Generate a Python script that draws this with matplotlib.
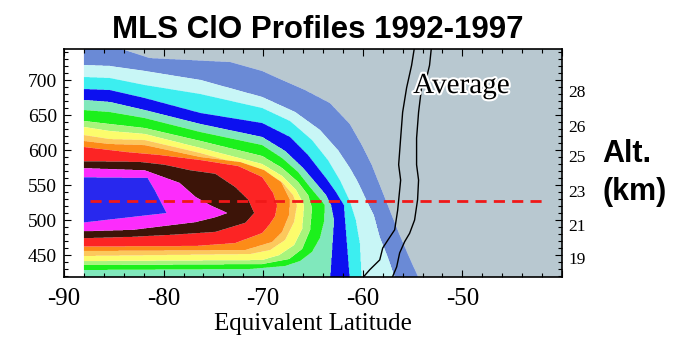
import numpy as np
import matplotlib
matplotlib.use("Agg")
import matplotlib.pyplot as plt
import matplotlib.patheffects as pe
import matplotlib.transforms as mtransforms
from matplotlib.ticker import MultipleLocator, FixedLocator

# ---------------------------------------------------------------------------
# ClO bands (index 0 = background, 14 = vortex core)
# ---------------------------------------------------------------------------
band_colors = [
    "#b8c8d0",  # 0 background
    "#6a8ad6",  # 1 slate blue
    "#c8f6f6",  # 2 pale cyan
    "#3ceef0",  # 3 cyan
    "#0c10f0",  # 4 blue
    "#80e8bc",  # 5 aqua
    "#1cf01c",  # 6 green
    "#a8f47c",  # 7 light green
    "#fcfc6c",  # 8 yellow
    "#fcc85c",  # 9 light orange
    "#fc8c18",  # 10 orange
    "#fc2424",  # 11 red
    "#3c1408",  # 12 dark brown
    "#fc2cfc",  # 13 magenta
    "#2828ee",  # 14 core blue
]

# Equatorward edge of each band: equivalent latitude (deg) at potential
# temperature theta (K).  Each band fills the polar side of its edge.
slate_theta = [746.0, 731.4, 725.7, 712.9, 700.0, 685.7, 667.1, 637.1, 607.1, 578.6, 542.9, 514.3, 478.6, 445.7, 414.3]
slate_lat = [-84.6, -81.4, -73.3, -70.1, -68.1, -65.8, -63.3, -61.3, -60.1, -59.1, -58.1, -57.3, -56.3, -55.3, -54.3]

pale_theta = [721.4, 720.0, 712.9, 700.0, 675.7, 654.3, 628.6, 600.0, 574.3, 554.3, 527.1, 507.1, 475.7, 447.1, 414.3]
pale_lat = [-88.0, -85.4, -81.9, -76.3, -70.1, -66.8, -64.3, -62.5, -61.3, -60.5, -59.6, -58.9, -58.3, -57.5, -56.7]

cyan_theta = [704.3, 702.9, 692.9, 680.0, 660.0, 641.4, 614.3, 585.7, 557.1, 527.1, 500.0, 467.1, 414.3]
cyan_lat = [-88.0, -85.4, -81.9, -76.3, -70.1, -67.3, -65.1, -63.5, -62.3, -61.3, -60.7, -60.3, -60.1]

blue_theta = [687.1, 685.7, 674.3, 652.9, 638.6, 618.6, 592.9, 560.0, 540.0, 521.4, 485.7, 450.0, 414.3]
blue_lat = [-88.0, -85.4, -81.9, -76.3, -70.1, -67.3, -65.5, -63.7, -62.7, -61.9, -61.7, -61.5, -61.3]

aqua_theta = [671.4, 668.6, 657.1, 637.1, 618.6, 598.6, 574.3, 554.3, 535.7, 521.4, 500.0, 457.1, 414.3]
aqua_lat = [-88.0, -85.4, -81.9, -76.3, -70.1, -67.8, -66.0, -64.8, -63.7, -63.2, -62.9, -63.1, -63.3]

green_theta = [657.1, 654.3, 645.7, 625.7, 607.1, 588.6, 568.6, 547.1, 521.4, 497.1, 474.3, 454.3, 441.4, 434.3, 430.0, 428.6]
green_lat = [-88.0, -85.4, -81.9, -76.3, -70.1, -68.1, -66.5, -65.3, -63.8, -63.9, -64.3, -65.1, -66.3, -67.8, -71.3, -88.0]

lgreen_theta = [641.4, 637.1, 631.4, 612.9, 591.4, 574.3, 554.3, 535.7, 517.1, 485.7, 458.6, 444.3, 437.1, 435.7]
lgreen_lat = [-88.0, -85.4, -81.9, -76.3, -70.1, -68.1, -66.5, -65.5, -65.1, -65.3, -66.1, -67.4, -70.1, -88.0]

yellow_theta = [632.9, 627.1, 622.9, 602.9, 580.0, 562.9, 542.9, 521.4, 487.1, 464.3, 450.0, 442.9, 441.4]
yellow_lat = [-88.0, -85.4, -81.9, -76.3, -70.1, -68.1, -66.7, -65.9, -66.1, -66.9, -68.4, -70.1, -88.0]

lorange_theta = [621.4, 615.7, 614.3, 595.7, 571.4, 554.3, 535.7, 521.4, 497.1, 471.4, 457.1, 451.4, 448.6]
lorange_lat = [-88.0, -85.4, -81.9, -76.3, -70.1, -68.1, -67.0, -66.6, -66.9, -67.8, -69.3, -71.3, -88.0]

orange_theta = [612.9, 608.6, 607.1, 590.0, 582.9, 571.4, 554.3, 528.6, 507.1, 482.9, 468.6, 457.1, 455.7]
orange_lat = [-88.0, -85.4, -81.9, -76.3, -72.3, -69.9, -68.2, -67.3, -67.4, -68.1, -69.1, -71.8, -88.0]

red_theta = [604.3, 597.1, 592.9, 585.7, 577.1, 561.4, 538.6, 521.4, 505.7, 492.9, 481.4, 467.1, 462.9, 462.1]
red_lat = [-88.0, -83.7, -80.4, -76.3, -72.5, -70.1, -69.0, -68.6, -68.8, -69.4, -70.1, -72.8, -76.8, -88.0]

brown_theta = [584.0, 583.0, 579.0, 571.0, 566.0, 547.0, 529.0, 510.0, 496.0, 483.0, 479.0, 476.0, 474.0]
brown_lat = [-88.0, -82.4, -79.9, -77.3, -74.8, -72.8, -71.5, -70.9, -71.8, -74.8, -79.1, -83.1, -88.0]

magenta_theta = [574.0, 571.0, 553.0, 533.0, 521.0, 510.0, 504.0, 497.0, 486.0, 484.0]
magenta_lat = [-88.0, -81.9, -78.4, -76.8, -75.3, -73.6, -74.8, -76.8, -83.1, -88.0]

core_theta = [561.0, 560.0, 543.0, 521.0, 510.0, 497.0, 496.5]
core_lat = [-88.0, -81.6, -80.9, -80.1, -79.7, -87.7, -88.0]

# Vortex-edge ("Average") lines
avg_left_theta = [748, 721, 689, 654, 617, 579, 557, 514, 486, 471, 460, 443, 429, 416]
avg_left_lat = [-54.8, -55.1, -55.6, -56.0, -56.2, -56.4, -56.2, -56.5, -56.8, -57.5, -58.0, -58.3, -59.3, -60.1]
avg_right_theta = [748, 721, 703, 689, 654, 617, 579, 557, 529, 500, 481, 469, 453, 433, 416]
avg_right_lat = [-53.1, -53.3, -53.6, -54.1, -54.4, -54.6, -54.6, -54.4, -54.5, -54.8, -55.3, -55.8, -56.3, -56.6, -57.1]

# Reference level (dashed)
ref_theta = 527.0
ref_lat_start, ref_lat_end = -87.4, -41.4

# Altitude labels on the right axis and their potential temperature
alt_labels = ["28", "26", "25", "23", "21", "19"]
alt_theta = [681, 631, 589, 539, 490, 443]

lat_min_data = -88.0
xlim = (-90, -40)
ylim = (418.6, 744.3)
xtick_values = [-90, -80, -70, -60, -50]
ytick_values = [450, 500, 550, 600, 650, 700]

band_edges = [
    (slate_theta, slate_lat), (pale_theta, pale_lat), (cyan_theta, cyan_lat),
    (blue_theta, blue_lat), (aqua_theta, aqua_lat), (green_theta, green_lat),
    (lgreen_theta, lgreen_lat), (yellow_theta, yellow_lat),
    (lorange_theta, lorange_lat), (orange_theta, orange_lat),
    (red_theta, red_lat), (brown_theta, brown_lat),
    (magenta_theta, magenta_lat), (core_theta, core_lat),
]

# ---------------------------------------------------------------------------
# Gridded band index field
# ---------------------------------------------------------------------------
lat_grid = np.arange(lat_min_data, -40.0 + 1e-9, 0.05)
theta_grid = np.arange(416.0, 747.0, 0.4)
Z = np.zeros((theta_grid.size, lat_grid.size))
for k, (th, la) in enumerate(band_edges, start=1):
    th = np.asarray(th, float)
    la = np.asarray(la, float)
    order = np.argsort(th)
    edge = np.interp(theta_grid, th[order], la[order])
    inside = (theta_grid >= th.min()) & (theta_grid <= th.max())
    mask = inside[:, None] & (lat_grid[None, :] < edge[:, None])
    Z[mask] = np.maximum(Z[mask], k)

# ---------------------------------------------------------------------------
# Figure
# ---------------------------------------------------------------------------
W, H = 673, 341
fig = plt.figure(figsize=(W / 100, H / 100), dpi=100)
ax = fig.add_axes([64 / W, 1 - 277 / H, 498 / W, 228 / H])
ax.set_facecolor("white")

ax.contourf(lat_grid, theta_grid, Z, levels=np.arange(-0.5, 15.0, 1.0),
            colors=band_colors, antialiased=True)

ax.plot(avg_left_lat, avg_left_theta, color="black", lw=1.0, zorder=3)
ax.plot(avg_right_lat, avg_right_theta, color="black", lw=1.0, zorder=3)

ax.hlines(ref_theta, ref_lat_start, ref_lat_end, colors="#f01818",
          linewidth=2.0, linestyles=(0, (4.0, 2.6)), zorder=4)

ax.text(-54.95, 681.4, "Average", family="Liberation Serif", fontsize=21,
        ha="left", va="baseline", zorder=5,
        path_effects=[pe.withStroke(linewidth=3, foreground="white")])

ax.set_xlim(*xlim)
ax.set_ylim(*ylim)

serif = "Liberation Serif"
ax.xaxis.set_major_locator(FixedLocator(xtick_values + [-40]))
ax.set_xticklabels([str(v) for v in xtick_values] + [""])
ax.xaxis.set_minor_locator(MultipleLocator(2))
ax.yaxis.set_major_locator(FixedLocator(ytick_values))
ax.set_yticklabels([str(v) for v in ytick_values])
ax.yaxis.set_minor_locator(MultipleLocator(10))

ax.tick_params(which="both", direction="in", top=True, right=True,
               color="black", width=0.8)
ax.tick_params(which="major", length=5)
ax.tick_params(which="minor", length=3)
ax.tick_params(axis="x", which="major", pad=8, labelsize=18)
ax.tick_params(axis="y", which="major", pad=5, labelsize=14)
for lab in ax.get_xticklabels() + ax.get_yticklabels():
    lab.set_family(serif)

for s in ax.spines.values():
    s.set_linewidth(1.2)

ax.set_xlabel("Equivalent Latitude", family=serif, fontsize=18, labelpad=2)

trans = mtransforms.blended_transform_factory(ax.transAxes, ax.transData)
for lab, th in zip(alt_labels, alt_theta):
    ax.text(1.013, th, lab, transform=trans, family=serif, fontsize=12.5,
            ha="left", va="center")

fig.text(318 / W, 1 - 37.5 / H, "MLS ClO Profiles 1992-1997",
         family="Liberation Sans", fontweight="bold", fontsize=22.5,
         ha="center", va="baseline")
fig.text(602 / W, 1 - 162 / H, "Alt.", family="Liberation Sans",
         fontweight="bold", fontsize=22, ha="left", va="baseline")
fig.text(602 / W, 1 - 200 / H, "(km)", family="Liberation Sans",
         fontweight="bold", fontsize=22, ha="left", va="baseline")

fig.savefig("out.png", dpi=100)
